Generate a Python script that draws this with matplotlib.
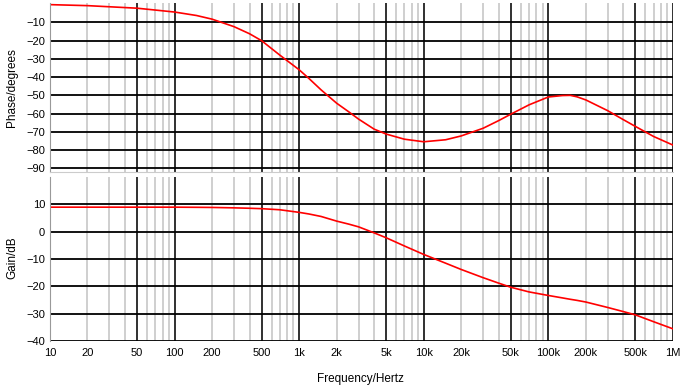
import matplotlib
matplotlib.use("Agg")
import matplotlib.pyplot as plt
from matplotlib.ticker import LogLocator, FuncFormatter, FixedLocator
import numpy as np

plt.rcParams["font.family"] = ["Liberation Sans", "DejaVu Sans"]
plt.rcParams["font.size"] = 8

# values
freq = [10, 20, 50, 100, 150, 200, 300, 400, 500, 700, 1e3, 1.2e3, 1.5e3, 2e3, 2.5e3,
        3e3, 4e3, 5e3, 7e3, 1e4, 1.5e4, 2e4, 3e4, 4e4, 5e4, 7e4, 1e5, 1.3e5, 1.5e5,
        1.7e5, 2e5, 3e5, 4e5, 5e5, 7e5, 1e6]
phase = [-0.35, -0.9, -2.3, -4.4, -6.3, -8.3, -12.4, -16.3, -20.1, -28.0, -36.0,
         -40.8, -47.0, -54.3, -59.0, -63.0, -68.5, -71.2, -74.0, -75.4, -74.3,
         -72.2, -68.0, -63.8, -60.3, -55.2, -50.9, -50.1, -50.0, -50.8, -52.5, -58.4,
         -63.3, -67.0, -72.5, -77.2]
gain = [9.0, 9.0, 9.0, 9.0, 8.95, 8.9, 8.75, 8.6, 8.45, 8.05, 7.1, 6.5, 5.6, 3.9,
        2.8, 1.8, -0.4, -2.2, -5.2, -8.3, -11.5, -13.8, -16.8, -18.8, -20.3, -22.0,
        -23.3, -24.2, -24.7, -25.1, -25.7, -27.7, -29.2, -30.4, -32.9, -35.5]
phase_ticks = [-90, -80, -70, -60, -50, -40, -30, -20, -10]
gain_ticks = [-40, -30, -20, -10, 0, 10]


def freq_label(f, pos=None):
    m = f / 10 ** np.floor(np.log10(f) + 1e-9)
    if round(m) not in (1, 2, 5):
        return ""
    if f >= 1e6:
        return "%gM" % (f / 1e6)
    if f >= 1e3:
        return "%gk" % (f / 1e3)
    return "%g" % f


fig = plt.figure(figsize=(6.83, 3.85), dpi=100)
ax1 = fig.add_axes([0.0732, 0.553, 0.912, 0.439])
ax2 = fig.add_axes([0.0732, 0.114, 0.912, 0.426])

for ax in (ax1, ax2):
    ax.set_xscale("log")
    ax.set_xlim(10, 1e6)
    ax.xaxis.set_major_locator(LogLocator(base=10, subs=(1.0, 5.0)))
    ax.xaxis.set_minor_locator(LogLocator(base=10, subs=(2, 3, 4, 6, 7, 8, 9)))
    ax.grid(True, which="major", axis="x", color="#202020", lw=1.3)
    ax.grid(True, which="minor", axis="x", color="#cccccc", lw=1.3)
    ax.grid(True, which="major", axis="y", color="black", lw=1.3)
    ax.set_axisbelow(True)
    for s in ("top", "right"):
        ax.spines[s].set_visible(False)
    ax.spines["left"].set_color("#999999")
    ax.spines["bottom"].set_color("#cccccc")
    ax.tick_params(axis="both", which="both", length=0)

ax1.plot(freq, phase, color="red", lw=1.2)
ax1.set_ylim(-92, 0.5)
ax1.yaxis.set_major_locator(FixedLocator(phase_ticks))
ax1.xaxis.set_major_formatter(FuncFormatter(lambda f, p: ""))
ax1.xaxis.set_minor_formatter(FuncFormatter(lambda f, p: ""))

ax2.plot(freq, gain, color="red", lw=1.2)
ax2.set_ylim(-40, 20)
ax2.yaxis.set_major_locator(FixedLocator(gain_ticks))
ax2.xaxis.set_major_formatter(FuncFormatter(freq_label))
ax2.xaxis.set_minor_formatter(FuncFormatter(freq_label))
ax2.tick_params(axis="x", which="both", pad=5)
ax2.spines["bottom"].set_visible(False)

fig.text(0.018, 1 - 88 / 385, "Phase/degrees", rotation=90, ha="center", va="center", fontsize=8.5)
fig.text(0.018, 1 - 258 / 385, "Gain/dB", rotation=90, ha="center", va="center", fontsize=8.5)
fig.text(0.527, 1 - 379 / 385, "Frequency/Hertz", ha="center", va="center", fontsize=8.5)

fig.savefig("out.png", dpi=100)
